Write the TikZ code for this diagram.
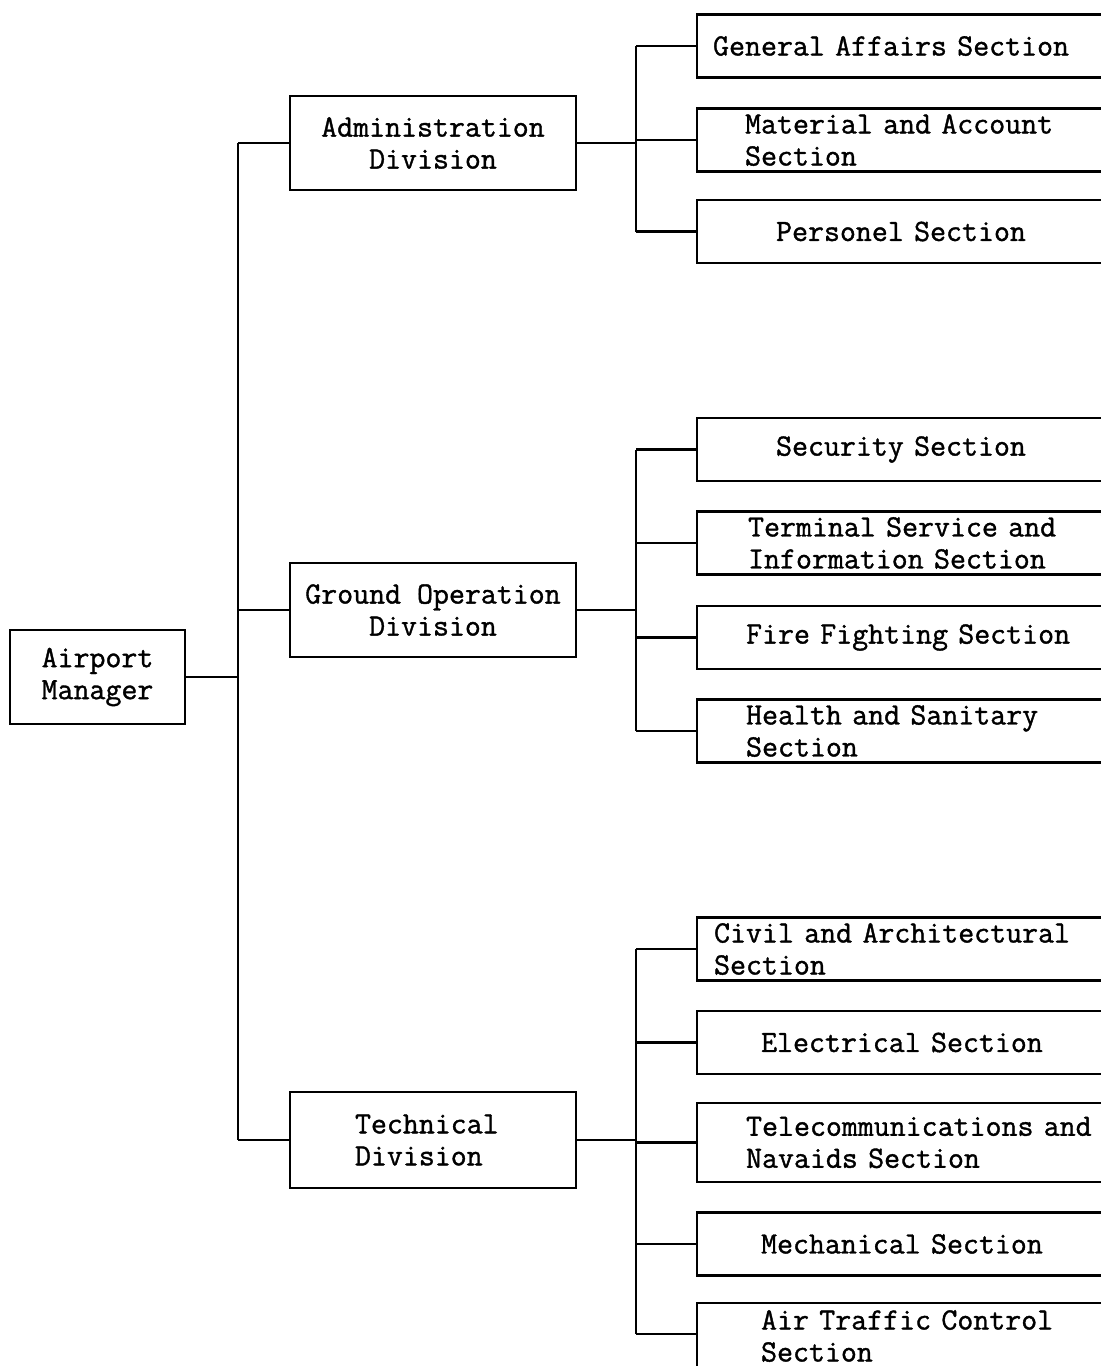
\documentclass[tikz,border=0pt]{standalone}
\usepackage{fontspec}
\setmainfont{Latin Modern Mono}[FakeBold=1.2,WordSpace={1,0,0}]
\begin{document}
\begin{tikzpicture}[x=0.5pt,y=-0.5pt,
  every node/.style={font=\fontsize{15.5pt}{16pt}\selectfont},
  ln/.style={line width=1.1pt},
  box/.style={draw,line width=1.1pt,inner sep=0pt},
  divbox/.style={box,minimum width=143pt,minimum height=47pt,align=center},
  secbox/.style={box,anchor=west,minimum height=31.5pt,text width=210pt,align=left}]
\useasboundingbox (0,0) rectangle (1101,1366);
% top level
\node[box,minimum width=87.5pt,minimum height=47pt,align=center] (mgr) at (97.5,677) {Airport\\Manager};
% divisions
\node[divbox] (adm) at (433,143) {Administration\\Division};
\node[divbox] (gnd) at (433,610) {Ground Operation\\Division};
\node[box,minimum height=48pt,text width=78pt,inner xsep=32.5pt,align=left] (tec) at (433,1140) {Technical\\Division};
% trunk
\coordinate (tA) at (238,143);
\coordinate (tM) at (238,677);
\coordinate (tC) at (238,1140);
\draw[ln] (tA) -- (tC);
\draw[ln] (mgr.east) -- (tM);
\draw[ln] (adm.west -| tA) -- (adm.west);
\draw[ln] (gnd.west -| tA) -- (gnd.west);
\draw[ln] (tec.west -| tA) -- (tec.west);
% administration sections
\node[secbox,inner xsep=8pt] (s1) at (696,46) {General Affairs Section};
\node[secbox,inner xsep=24pt] (s2) at (696,140) {Material and Account\\Section};
\node[secbox,inner xsep=39.5pt] (s3) at (696,231.5) {Personel Section};
\coordinate (bA1) at (636,46);
\coordinate (bA3) at (636,231.5);
\draw[ln] (bA1) -- (bA3);
\draw[ln] (adm.east) -- (adm.east -| bA1);
\draw[ln] (s1.west -| bA1) -- (s1.west);
\draw[ln] (s2.west -| bA1) -- (s2.west);
\draw[ln] (s3.west -| bA1) -- (s3.west);
% ground operation sections
\node[secbox,inner xsep=39.5pt] (g1) at (696,449.5) {Security Section};
\node[secbox,inner xsep=25.5pt] (g2) at (696,543) {Terminal Service and\\Information Section};
\node[secbox,inner xsep=24.5pt] (g3) at (696,637.5) {Fire Fighting Section};
\node[secbox,inner xsep=24.5pt] (g4) at (696,731) {Health and Sanitary\\Section};
\coordinate (bG1) at (636,449.5);
\coordinate (bG4) at (636,731);
\draw[ln] (bG1) -- (bG4);
\draw[ln] (gnd.east) -- (gnd.east -| bG1);
\draw[ln] (g1.west -| bG1) -- (g1.west);
\draw[ln] (g2.west -| bG1) -- (g2.west);
\draw[ln] (g3.west -| bG1) -- (g3.west);
\draw[ln] (g4.west -| bG1) -- (g4.west);
% technical sections
\node[secbox,inner xsep=8.5pt] (t1) at (696,949) {Civil and Architectural\\Section};
\node[secbox,inner xsep=32pt] (t2) at (696,1042.5) {Electrical Section};
\node[secbox,inner xsep=24.5pt,minimum height=39.5pt] (t3) at (696,1142.5) {Telecommunications and\\Navaids Section};
\node[secbox,inner xsep=32pt] (t4) at (696,1244) {Mechanical Section};
\node[secbox,inner xsep=32pt,minimum height=33pt] (t5) at (696,1336) {Air Traffic Control\\Section};
\coordinate (bT1) at (636,949);
\coordinate (bT5) at (636,1334);
\draw[ln] (bT1) -- (bT5);
\draw[ln] (tec.east) -- (tec.east -| bT1);
\draw[ln] (t1.west -| bT1) -- (t1.west);
\draw[ln] (t2.west -| bT1) -- (t2.west);
\draw[ln] (t3.west -| bT1) -- (t3.west);
\draw[ln] (t4.west -| bT1) -- (t4.west);
\draw[ln] (bT5) -- (bT5 -| t5.west);
\end{tikzpicture}
\end{document}
